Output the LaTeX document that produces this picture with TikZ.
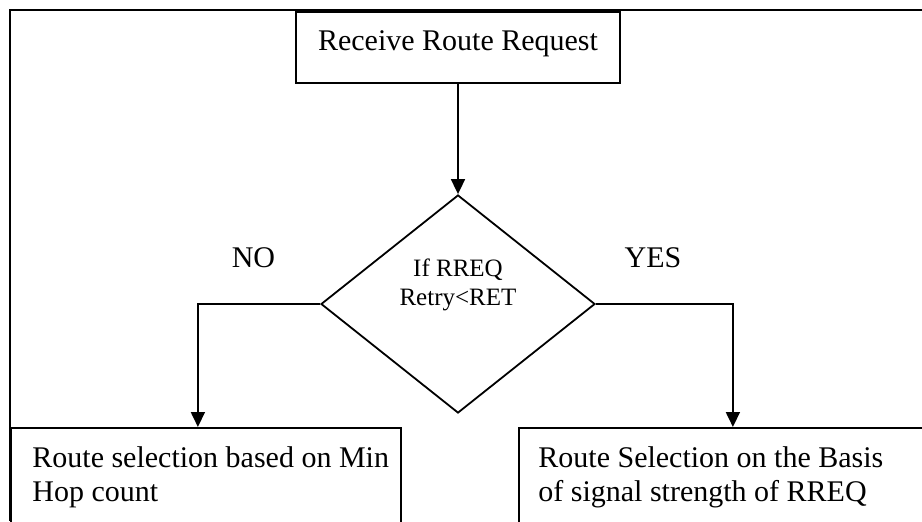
\documentclass[tikz,border=0pt]{standalone}
\usepackage{fontspec}
\setmainfont{Liberation Serif}
\usetikzlibrary{shapes.geometric, arrows.meta}

\begin{document}
\begin{tikzpicture}[x=0.5pt,y=-0.5pt,
  box/.style={draw,line width=0.9pt,rectangle,inner sep=0pt},
  txt/.style={font=\fontsize{15}{17}\selectfont,inner sep=0pt},
  arr/.style={line width=0.9pt,-{Triangle[length=7.5pt,width=7pt]}}]
\useasboundingbox (0,0) rectangle (922,521);
\clip (0,0) rectangle (922,521);

% Outer frame
\draw[line width=1.2pt] (922,10) -- (10,10) -- (10,521);

% Request box
\node[box,txt,minimum width=162pt,minimum height=35.5pt,
  text height=10pt,text depth=7.5pt] (recv) at (458,47.5)
  {Receive Route Request};

% Decision
\node[diamond,draw,line width=0.9pt,inner sep=0pt,
  minimum width=137pt,minimum height=109pt] (cond) at (458,304) {};
\node[font=\fontsize{12.5}{14.5}\selectfont,align=center,inner sep=0pt]
  (condtxt) at ([yshift=9.5pt]cond.center) {If RREQ\\Retry<RET};

% Branch labels
\node[txt] (no) at (253.5,258) {NO};
\node[txt] (yes) at (653,258) {YES};

% Outcome boxes
\node[box,anchor=north west,minimum width=195pt,minimum height=60pt]
  (selhop) at (10,427) {};
\node[box,anchor=north west,minimum width=214pt,minimum height=60pt]
  (selsig) at (518,427) {};
\node[txt,align=left,anchor=north west] (hoptxt) at (32,446)
  {Route selection based on Min\\Hop count};
\node[txt,align=left,anchor=north west] (sigtxt) at (538,446)
  {Route Selection on the Basis\\of signal strength of RREQ};

% Connectors
\draw[arr] (recv) -- (cond);
\draw[arr] (cond.west) -| ([xshift=-4pt]selhop.north);
\draw[arr] (cond.east) -| (selsig.north);
\end{tikzpicture}
\end{document}
